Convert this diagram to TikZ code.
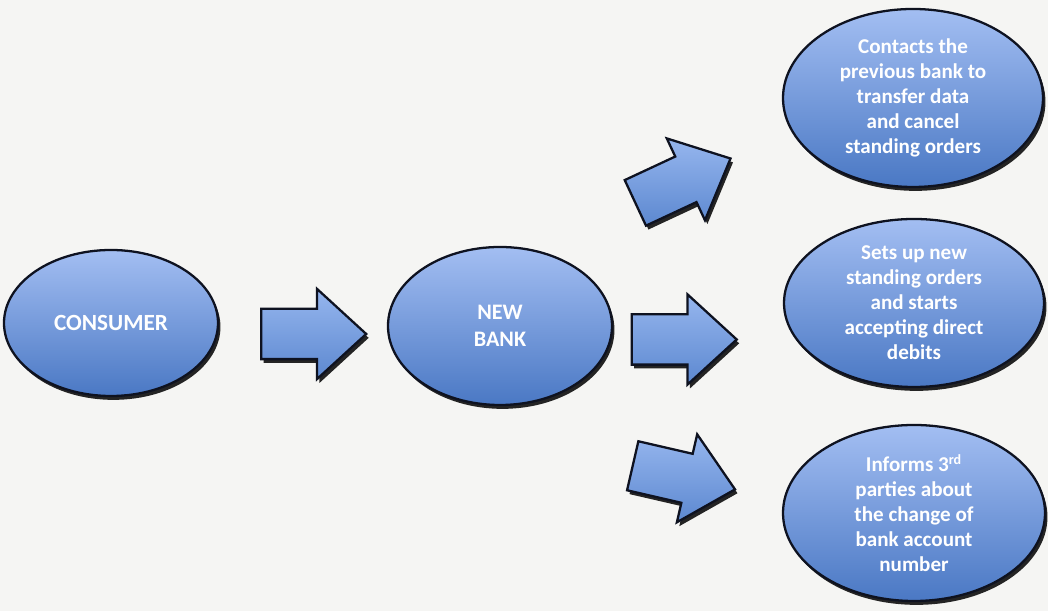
\documentclass[tikz,border=0pt]{standalone}
\usepackage{fontspec}
\setmainfont{Carlito}
\usepackage{tikz}
\usetikzlibrary{positioning, shapes.geometric, shapes.arrows, shadows}
\definecolor{bgGrey}{RGB}{245, 245, 243}
\definecolor{blueTop}{RGB}{163, 190, 242}
\definecolor{blueBot}{RGB}{74, 120, 196}
\definecolor{arrTop}{RGB}{150, 182, 238}
\definecolor{arrBot}{RGB}{92, 136, 208}
\definecolor{rimDark}{RGB}{14, 18, 32}

\begin{document}
\begin{tikzpicture}[
    font=\fontsize{12}{14.2}\selectfont\bfseries,
    blob/.style={ellipse, draw=rimDark, line width=1.3pt, top color=blueTop, bottom color=blueBot,
        drop shadow={shadow xshift=1.4pt, shadow yshift=-2.2pt, fill=black, opacity=0.85},
        inner sep=0pt, align=center, text=white},
    blockarr/.style={single arrow, draw=rimDark, line width=1.3pt, top color=arrTop, bottom color=arrBot,
        drop shadow={shadow xshift=1.4pt, shadow yshift=-2.2pt, fill=black, opacity=0.85},
        inner xsep=0pt, inner ysep=0.48cm, minimum height=2.1cm, minimum width=1.76cm,
        single arrow head extend=0.4cm, single arrow tip angle=85}
]
\useasboundingbox (0,0) rectangle (20.96,12.22);
\fill[bgGrey] (0,0) rectangle (20.96,12.22);

\node[blob, minimum width=4.28cm, minimum height=2.92cm, font=\fontsize{13.2}{15}\selectfont\bfseries]
    (consumer) at (2.22,5.76) {CONSUMER};
\node[blob, minimum width=4.48cm, minimum height=3.16cm, font=\fontsize{12.6}{15.2}\selectfont\bfseries]
    (newbank)  at (10.00,5.70) {NEW\\BANK};
\node[blob, minimum width=5.2cm, minimum height=3.56cm]  (contacts) at (18.26,10.26)
    {Contacts the\\previous bank to\\transfer data\\and cancel\\standing orders};
\node[blob, minimum width=5.2cm, minimum height=3.36cm]  (setsup)   at (18.28,6.16)
    {Sets up new\\standing orders\\and starts\\accepting direct\\debits};
\node[blob, minimum width=5.24cm, minimum height=3.52cm] (informs)  at (18.28,1.96)
    {Informs 3\textsuperscript{rd}\\parties about\\the change of\\bank account\\number};

\node[blockarr] (toBank)     at (6.00,5.54) {};
\node[blockarr] (toSetsup)   at (13.41,5.43) {};
\node[blockarr, rotate=25]  (toContacts) at (13.41,8.49) {};
\node[blockarr, rotate=-13] (toInforms)  at (13.41,2.73) {};
\end{tikzpicture}
\end{document}
